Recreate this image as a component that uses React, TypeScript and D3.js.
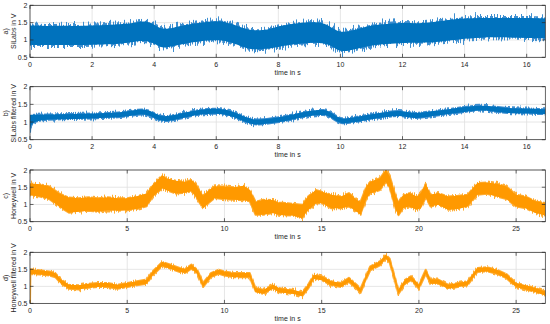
import React from "react";
import * as d3 from "d3";

// Panel a) SiLabs raw: time, low and high envelope (V)
const aTime = [0, 0.5, 1, 1.5, 2, 2.5, 3, 3.5, 3.8, 4.1, 4.3, 4.6, 5, 5.5, 6, 6.3, 6.7, 7, 7.3, 7.7, 8, 8.5, 9, 9.5, 9.8, 10, 10.3, 10.7, 11, 11.5, 12, 12.5, 13, 13.5, 14, 14.5, 15, 15.5, 16, 16.6];
const aLow = [0.86, 0.85, 0.86, 0.85, 0.86, 0.87, 0.9, 0.97, 0.98, 0.85, 0.76, 0.82, 0.9, 0.97, 1.0, 0.98, 0.86, 0.75, 0.72, 0.75, 0.8, 0.88, 0.92, 0.92, 0.78, 0.66, 0.7, 0.78, 0.85, 0.88, 0.92, 0.92, 0.93, 0.98, 1.04, 1.07, 1.08, 1.07, 1.06, 1.05];
const aHigh = [1.42, 1.4, 1.41, 1.4, 1.42, 1.43, 1.45, 1.52, 1.55, 1.38, 1.3, 1.35, 1.43, 1.5, 1.55, 1.52, 1.4, 1.3, 1.27, 1.3, 1.4, 1.47, 1.52, 1.5, 1.3, 1.22, 1.25, 1.35, 1.42, 1.46, 1.5, 1.47, 1.52, 1.58, 1.62, 1.64, 1.63, 1.63, 1.64, 1.62];

// Panel b) SiLabs filtered
const bTime = [0, 0.02, 1, 2, 3, 3.5, 3.8, 4.2, 4.5, 5, 5.5, 6, 6.5, 7, 7.3, 8, 8.5, 9, 9.5, 9.7, 10, 10.3, 11, 11.5, 12, 12.4, 13, 13.5, 14, 14.5, 15, 15.5, 16, 16.6];
const bLow = [0.72, 1.06, 1.08, 1.1, 1.13, 1.22, 1.22, 1.01, 1.03, 1.13, 1.22, 1.25, 1.18, 0.97, 0.91, 0.99, 1.08, 1.18, 1.22, 1.13, 0.94, 0.97, 1.08, 1.15, 1.19, 1.08, 1.18, 1.22, 1.29, 1.34, 1.29, 1.24, 1.25, 1.22];
const bHigh = [1.2, 1.2, 1.22, 1.24, 1.27, 1.36, 1.36, 1.15, 1.17, 1.27, 1.36, 1.39, 1.32, 1.11, 1.05, 1.13, 1.22, 1.32, 1.36, 1.27, 1.08, 1.11, 1.22, 1.29, 1.33, 1.22, 1.32, 1.36, 1.43, 1.48, 1.43, 1.38, 1.39, 1.36];

// Panel c) Honeywell raw
const cTime = [0, 0.5, 1, 1.5, 2, 2.5, 3, 3.5, 4, 4.5, 5, 5.5, 6, 6.3, 6.8, 7, 7.5, 8, 8.3, 8.5, 8.9, 9.2, 9.5, 10, 10.5, 11, 11.3, 11.6, 12, 12.5, 12.8, 13, 13.5, 14, 14.3, 14.7, 15, 15.5, 16, 16.4, 16.8, 17, 17.3, 17.5, 18, 18.3, 18.5, 18.8, 18.95, 19.2, 19.5, 19.9, 20.1, 20.35, 20.6, 21, 21.5, 22, 22.5, 23, 23.5, 24, 24.5, 25, 25.5, 26, 26.5];
const cLow = [1.27, 1.23, 1.15, 0.94, 0.76, 0.79, 0.82, 0.79, 0.83, 0.82, 0.83, 0.87, 0.95, 1.22, 1.47, 1.42, 1.32, 1.34, 1.38, 1.25, 0.89, 1.05, 1.19, 1.15, 1.14, 1.12, 1.09, 0.7, 0.7, 0.75, 0.7, 0.69, 0.68, 0.6, 0.84, 1.03, 1.04, 0.89, 0.89, 0.94, 0.79, 0.7, 1.17, 1.32, 1.42, 1.65, 1.47, 0.86, 0.69, 0.9, 0.94, 0.85, 0.9, 1.2, 0.94, 0.99, 0.85, 0.87, 0.94, 1.28, 1.31, 1.23, 1.16, 0.94, 0.89, 0.75, 0.68];
const cHigh = [1.61, 1.59, 1.52, 1.32, 1.2, 1.18, 1.21, 1.18, 1.21, 1.18, 1.18, 1.24, 1.32, 1.56, 1.85, 1.76, 1.69, 1.66, 1.71, 1.61, 1.25, 1.41, 1.53, 1.52, 1.5, 1.54, 1.42, 1.08, 1.14, 1.13, 1.05, 1.05, 1.02, 0.99, 1.23, 1.42, 1.37, 1.28, 1.23, 1.33, 1.13, 1.08, 1.52, 1.66, 1.76, 2.0, 1.82, 1.27, 1.08, 1.27, 1.33, 1.23, 1.33, 1.6, 1.28, 1.33, 1.23, 1.25, 1.28, 1.62, 1.64, 1.6, 1.52, 1.28, 1.23, 1.09, 1.04];

// Panel d) Honeywell filtered
const dTime = [0, 0.02, 0.5, 1, 1.3, 1.6, 2, 2.5, 3, 3.5, 4, 4.5, 5, 5.5, 6, 6.3, 6.8, 7.2, 7.7, 8, 8.3, 8.6, 8.9, 9.3, 9.7, 10, 10.5, 11, 11.3, 11.6, 12, 12.5, 12.8, 13, 13.5, 14, 14.3, 14.6, 15, 15.5, 16, 16.4, 16.8, 17, 17.3, 17.5, 18, 18.3, 18.5, 18.95, 19.3, 19.6, 20, 20.35, 20.6, 21, 21.5, 22, 22.5, 23, 23.5, 24, 24.5, 25, 25.5, 26, 26.5];
const dLow = [0.5, 1.36, 1.35, 1.32, 1.27, 1.08, 0.93, 0.91, 0.96, 0.98, 0.98, 0.93, 0.98, 1.03, 1.08, 1.32, 1.6, 1.52, 1.42, 1.4, 1.52, 1.37, 0.98, 1.27, 1.37, 1.32, 1.27, 1.27, 1.27, 0.83, 0.78, 0.93, 0.83, 0.81, 0.78, 0.71, 0.93, 1.22, 1.18, 1.03, 0.98, 1.13, 0.93, 0.81, 1.22, 1.47, 1.62, 1.81, 1.69, 0.78, 1.08, 1.18, 0.93, 1.37, 1.08, 1.08, 0.93, 0.98, 1.03, 1.42, 1.44, 1.37, 1.24, 0.98, 0.91, 0.83, 0.73];
const dHigh = [1.5, 1.5, 1.47, 1.44, 1.39, 1.2, 1.05, 1.03, 1.08, 1.1, 1.1, 1.05, 1.1, 1.15, 1.2, 1.44, 1.72, 1.64, 1.54, 1.52, 1.64, 1.49, 1.1, 1.39, 1.49, 1.44, 1.39, 1.39, 1.39, 0.95, 0.9, 1.05, 0.95, 0.93, 0.9, 0.83, 1.05, 1.34, 1.3, 1.15, 1.1, 1.25, 1.05, 0.93, 1.34, 1.59, 1.74, 1.93, 1.81, 0.9, 1.2, 1.3, 1.05, 1.49, 1.2, 1.2, 1.05, 1.1, 1.15, 1.54, 1.56, 1.49, 1.36, 1.1, 1.03, 0.95, 0.85];

const yTicks = [0.5, 1, 1.5, 2];
const xTicksSi = [0, 2, 4, 6, 8, 10, 12, 14, 16];
const xTicksHw = [0, 5, 10, 15, 20, 25];
const labelsTag = ["a)", "b)", "c)", "d)"];
const labelsName = ["SiLabs in V", "SiLabs filtered in V", "Honeywell in V", "Honeywell filtered in V"];
const xLabel = "time in s";

const BLUE = "#0072BD";
const BLUE_L = "#3f8fd0";
const ORANGE = "#FF9900";
const ORANGE_L = "#ffad33";

const X0 = 30;
const X1 = 545.3;
const FONT = "'Liberation Sans', Arial, Helvetica, sans-serif";

type PanelDef = {
  top: number;
  bottom: number;
  time: number[];
  low: number[];
  high: number[];
  xmax: number;
  xTicks: number[];
  color: string;
  light: string;
  jitter: number;
  smooth: boolean;
};

const panels: PanelDef[] = [
  { top: 5.3, bottom: 57.3, time: aTime, low: aLow, high: aHigh, xmax: 16.6, xTicks: xTicksSi, color: BLUE, light: BLUE_L, jitter: 16, smooth: true },
  { top: 86.7, bottom: 139.7, time: bTime, low: bLow, high: bHigh, xmax: 16.6, xTicks: xTicksSi, color: BLUE, light: BLUE_L, jitter: 6, smooth: true },
  { top: 170, bottom: 221.7, time: cTime, low: cLow, high: cHigh, xmax: 26.5, xTicks: xTicksHw, color: ORANGE, light: ORANGE_L, jitter: 8, smooth: false },
  { top: 252.3, bottom: 303.4, time: dTime, low: dLow, high: dHigh, xmax: 26.5, xTicks: xTicksHw, color: ORANGE, light: ORANGE_L, jitter: 5, smooth: false },
];

function Panel({ p, idx }: { p: PanelDef; idx: number }) {
  const x = d3.scaleLinear().domain([0, p.xmax]).range([X0, X1]);
  const y = d3.scaleLinear().domain([0.5, 2]).range([p.bottom, p.top]);
  const rows = p.time.map((t, i) => ({ t, lo: p.low[i], hi: p.high[i] }));
  const area = d3
    .area<{ t: number; lo: number; hi: number }>()
    .x((d) => x(d.t))
    .y0((d) => y(d.lo))
    .y1((d) => y(d.hi))
    .curve(p.smooth ? d3.curveBasis : d3.curveLinear);
  const path = area(rows) || "";
  const midY = (p.top + p.bottom) / 2;
  const clipId = `clip${idx}`;
  const filtId = `rough${idx}`;
  const grid = "#dfdfdf";
  const axisCol = "#262626";
  const tickLen = 3.5;
  return (
    <g>
      <defs>
        <clipPath id={clipId}>
          <rect x={X0} y={p.top} width={X1 - X0} height={p.bottom - p.top} />
        </clipPath>
        <filter id={filtId} x="-2%" y="-60%" width="104%" height="220%" colorInterpolationFilters="sRGB">
          <feTurbulence type="fractalNoise" baseFrequency="0.9 0.015" numOctaves={2} seed={idx * 7 + 3} result="t" />
          <feColorMatrix
            in="t"
            type="matrix"
            values="1 0 0 0 0  0 0 0 0 0.5  0 0 0 0 0  0 0 0 0 1"
            result="m"
          />
          <feDisplacementMap in="SourceGraphic" in2="m" scale={p.jitter} xChannelSelector="G" yChannelSelector="R" />
        </filter>
      </defs>
      <rect x={X0} y={p.top} width={X1 - X0} height={p.bottom - p.top} fill="#fff" />
      {p.xTicks.map((t) => (
        <line key={"gx" + t} x1={x(t)} x2={x(t)} y1={p.top} y2={p.bottom} stroke={grid} strokeWidth={0.8} />
      ))}
      {yTicks.map((v) => (
        <line key={"gy" + v} x1={X0} x2={X1} y1={y(v)} y2={y(v)} stroke={grid} strokeWidth={0.8} />
      ))}
      <g clipPath={`url(#${clipId})`}>
        <g filter={`url(#${filtId})`}>
          <path d={path} fill={p.light} stroke={p.light} strokeWidth={2} strokeLinejoin="round" />
        </g>
        <path d={path} fill={p.color} stroke="none" />
      </g>
      <rect x={X0} y={p.top} width={X1 - X0} height={p.bottom - p.top} fill="none" stroke={axisCol} strokeWidth={0.7} />
      {p.xTicks.map((t) => (
        <g key={"tx" + t}>
          <line x1={x(t)} x2={x(t)} y1={p.bottom} y2={p.bottom - tickLen} stroke={axisCol} strokeWidth={0.7} />
          <line x1={x(t)} x2={x(t)} y1={p.top} y2={p.top + tickLen} stroke={axisCol} strokeWidth={0.7} />
          <text x={x(t)} y={p.bottom + 9.3} fontSize={7} fill={axisCol} textAnchor="middle" fontFamily={FONT}>
            {t}
          </text>
        </g>
      ))}
      {yTicks.map((v) => (
        <g key={"ty" + v}>
          <line x1={X0} x2={X0 + tickLen} y1={y(v)} y2={y(v)} stroke={axisCol} strokeWidth={0.7} />
          <line x1={X1} x2={X1 - tickLen} y1={y(v)} y2={y(v)} stroke={axisCol} strokeWidth={0.7} />
          <text x={27.5} y={y(v) + 2.5} fontSize={7} fill={axisCol} textAnchor="end" fontFamily={FONT}>
            {v}
          </text>
        </g>
      ))}
      <text x={(X0 + X1) / 2} y={p.bottom + 17.3} fontSize={7} fill={axisCol} textAnchor="middle" fontFamily={FONT}>
        {xLabel}
      </text>
      <text transform={`translate(7.5,${midY}) rotate(-90)`} fontSize={7} fill={axisCol} textAnchor="middle" fontFamily={FONT}>
        {labelsTag[idx]}
      </text>
      <text transform={`translate(15.8,${midY}) rotate(-90)`} fontSize={7} fill={axisCol} textAnchor="middle" fontFamily={FONT}>
        {labelsName[idx]}
      </text>
    </g>
  );
}

export default function App() {
  return (
    <svg
      width={550}
      height={324}
      style={{ position: "absolute", left: 0, top: 0, background: "#fff" }}
    >
      <rect x={0} y={0} width={550} height={324} fill="#fff" />
      {panels.map((p, i) => (
        <Panel key={i} p={p} idx={i} />
      ))}
    </svg>
  );
}
